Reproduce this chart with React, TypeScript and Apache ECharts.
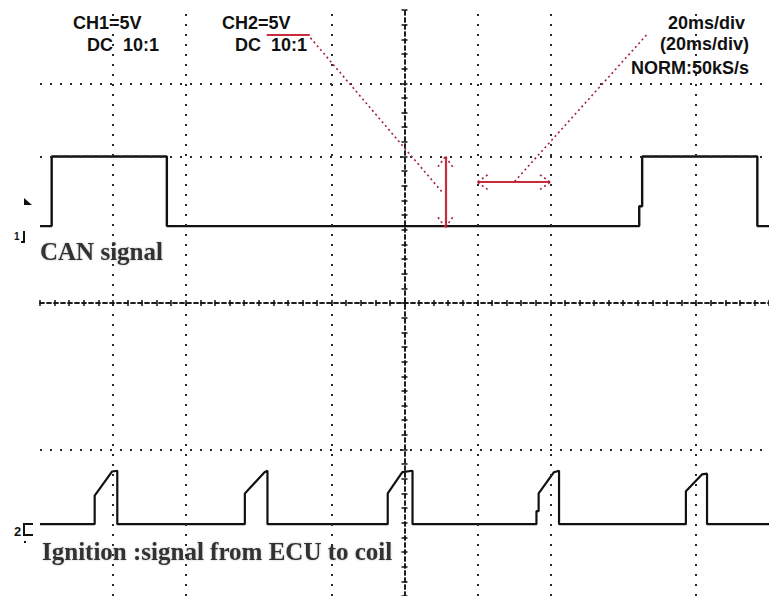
import React, { useEffect, useRef } from "react";
import * as echarts from "echarts";

// Oscilloscope screen: 10 horizontal divisions (-5..5), 8 vertical divisions (-4..4)
const xRange = [-5, 5];
const yRange = [-4, 4];
const verticalGridDivs = [-4, -3, -1, 1, 2, 4];
const horizontalGridDivs = [3, 2, -2];

// CH1: CAN signal (x in divisions, y in divisions)
const canSignal: [number, number][] = [
  [-5.0, 1.05], [-4.84, 1.05], [-4.84, 2.0], [-3.26, 2.0], [-3.26, 1.05],
  [3.22, 1.05], [3.22, 1.32], [3.26, 1.32], [3.26, 2.0], [4.84, 2.0],
  [4.84, 1.05], [5.0, 1.05],
];

// CH2: ignition signal from ECU to coil
const ignitionSignal: [number, number][] = [
  [-5.0, -3.02],
  [-4.25, -3.02], [-4.25, -2.63], [-4.01, -2.3], [-3.94, -2.29], [-3.94, -3.02],
  [-2.19, -3.02], [-2.19, -2.6], [-1.92, -2.31], [-1.88, -2.29], [-1.88, -3.02],
  [-0.23, -3.02], [-0.23, -2.6], [-0.03, -2.31], [0.11, -2.29], [0.11, -3.02],
  [1.81, -3.02], [1.81, -2.84], [1.84, -2.84], [1.84, -2.6], [2.05, -2.31], [2.12, -2.29], [2.12, -3.02],
  [3.86, -3.02], [3.86, -2.57], [4.08, -2.34], [4.15, -2.33], [4.15, -3.02],
  [5.0, -3.02],
];

// Red annotations (in divisions)
const ch2Underline: [number, number][] = [[-1.89, 3.66], [-1.3, 3.66]];
const leaderToAmplitude: [number, number][] = [[-1.29, 3.62], [0.52, 1.51]];
const amplitudeArrow: [number, number][] = [[0.56, 2.0], [0.56, 1.03]];
const divisionArrow: [number, number][] = [[1.0, 1.65], [2.0, 1.65]];
const leaderToTimebase: [number, number][] = [[1.51, 1.66], [3.33, 3.67]];

const ch1Header = ["CH1=5V", "DC  10:1"];
const ch2Header = ["CH2=5V", "DC  10:1"];
const timebaseHeader = ["20ms/div", "(20ms/div)", "NORM:50kS/s"];
const canLabel = "CAN signal";
const ignitionLabel = "Ignition :signal from ECU to coil";

const RED = "#c92a3c";
const TRACE = "#111111";

export default function App() {
  const ref = useRef<HTMLDivElement>(null);

  useEffect(() => {
    document.body.style.margin = "0";
    if (!ref.current) return;
    const chart = echarts.init(ref.current, undefined, { renderer: "svg" });

    const gridDot = { color: "#2a2a2a", type: [2, 8] as number[], width: 2 };
    const gridLines: any[] = [
      ...verticalGridDivs.map((v) => ({ xAxis: v, lineStyle: gridDot })),
      ...horizontalGridDivs.map((v) => ({ yAxis: v, lineStyle: gridDot })),
    ];

    const solidRed = { color: RED, width: 2.2, type: "solid" };
    const dottedRed = { color: "#a8203a", width: 1.6, type: [2, 3] as number[] };
    const seg = (p: [number, number][], style: any) => [
      { coord: p[0], lineStyle: style },
      { coord: p[1] },
    ];
    const hx = 0.1, hy = 0.14; // arrowhead sizes in divisions
    const vTop = amplitudeArrow[0], vBot = amplitudeArrow[1];
    const hL = divisionArrow[0], hR = divisionArrow[1];
    const heads: [number, number][][] = [
      [[vTop[0] - hx, vTop[1] - hy], vTop], [[vTop[0] + hx, vTop[1] - hy], vTop],
      [[vBot[0] - hx, vBot[1] + hy], vBot], [[vBot[0] + hx, vBot[1] + hy], vBot],
      [[hL[0] + hy, hL[1] + hx], hL], [[hL[0] + hy, hL[1] - hx], hL],
      [[hR[0] - hy, hR[1] + hx], hR], [[hR[0] - hy, hR[1] - hx], hR],
    ];
    const redLines: any[] = [
      seg(ch2Underline, solidRed),
      seg(leaderToAmplitude, dottedRed),
      seg(amplitudeArrow, solidRed),
      seg(divisionArrow, solidRed),
      seg(leaderToTimebase, dottedRed),
      ...heads.map((h) => seg(h, dottedRed)),
    ];

    const axisLineStyle = { color: "#111", width: 1.5, type: [4, 3] as number[] };
    const tickStyle = { color: "#111", width: 1.5 };
    const mkX = (position: string, yIdx: number) => ({
      type: "value",
      min: xRange[0],
      max: xRange[1],
      interval: 1,
      position,
      axisLine: { show: true, onZero: true, onZeroAxisIndex: yIdx, lineStyle: axisLineStyle },
      axisTick: { show: true, inside: false, length: 3, lineStyle: tickStyle },
      minorTick: { show: true, splitNumber: 5, length: 3, lineStyle: tickStyle },
      axisLabel: { show: false },
      splitLine: { show: false },
    });
    const mkY = (position: string, xIdx: number) => ({
      type: "value",
      min: yRange[0],
      max: yRange[1],
      interval: 1,
      position,
      axisLine: { show: true, onZero: true, onZeroAxisIndex: xIdx, lineStyle: axisLineStyle },
      axisTick: { show: true, inside: false, length: 3, lineStyle: tickStyle },
      minorTick: { show: true, splitNumber: 5, length: 3, lineStyle: tickStyle },
      axisLabel: { show: false },
      splitLine: { show: false },
    });

    const headerFont = {
      fontFamily: "Liberation Sans",
      fontWeight: "bold",
      fontSize: 18,
      fill: "#111",
      verticalAlign: "middle",
    };
    const labelFont = {
      fontFamily: "Liberation Serif",
      fontWeight: "bold",
      fontSize: 25,
      fill: "#333",
      verticalAlign: "middle",
      textShadowColor: "rgba(0,0,0,0.25)",
      textShadowBlur: 2,
    };

    chart.setOption({
      animation: false,
      backgroundColor: "#ffffff",
      grid: { left: 40, top: 10, width: 730, height: 588, containLabel: false },
      xAxis: [mkX("bottom", 0), mkX("top", 1)],
      yAxis: [mkY("left", 0), mkY("right", 1)],
      series: [
        {
          type: "line",
          data: canSignal,
          xAxisIndex: 0,
          yAxisIndex: 0,
          showSymbol: false,
          silent: true,
          lineStyle: { color: TRACE, width: 2.4 },
          markLine: {
            silent: true,
            symbol: ["none", "none"],
            label: { show: false },
            data: gridLines,
          },
          z: 3,
        },
        {
          type: "line",
          data: ignitionSignal,
          xAxisIndex: 0,
          yAxisIndex: 0,
          showSymbol: false,
          silent: true,
          lineStyle: { color: TRACE, width: 2.2 },
          markLine: {
            silent: true,
            symbol: ["none", "none"],
            label: { show: false },
            data: redLines,
          },
          z: 4,
        },
      ],
      graphic: [
        { type: "text", x: 73, y: 23, style: { ...headerFont, text: ch1Header[0] } },
        { type: "text", x: 87, y: 45, style: { ...headerFont, text: ch1Header[1] } },
        { type: "text", x: 222, y: 23, style: { ...headerFont, text: ch2Header[0] } },
        { type: "text", x: 235, y: 45, style: { ...headerFont, text: ch2Header[1] } },
        { type: "text", x: 745, y: 23, style: { ...headerFont, align: "right", text: timebaseHeader[0] } },
        { type: "text", x: 749, y: 44, style: { ...headerFont, align: "right", text: timebaseHeader[1] } },
        { type: "text", x: 749, y: 68, style: { ...headerFont, align: "right", text: timebaseHeader[2] } },
        { type: "text", x: 40, y: 251, style: { ...labelFont, text: canLabel } },
        { type: "text", x: 42, y: 551, style: { ...labelFont, text: ignitionLabel } },
        // channel markers
        { type: "polygon", shape: { points: [[24, 198], [24, 205], [32, 205]] }, style: { fill: "#111" } },
        { type: "text", x: 14, y: 236, style: { text: "1", fontSize: 10, fontWeight: "bold", fontFamily: "Liberation Sans", fill: "#111", verticalAlign: "middle" } },
        { type: "polyline", shape: { points: [[24, 231], [24, 242], [21, 242]] }, style: { stroke: "#111", lineWidth: 2, fill: null } },
        { type: "text", x: 14, y: 531, style: { text: "2", fontSize: 13, fontWeight: "bold", fontFamily: "Liberation Sans", fill: "#111", verticalAlign: "middle" } },
        { type: "polyline", shape: { points: [[33, 524], [24, 524], [24, 535], [33, 535]] }, style: { stroke: "#111", lineWidth: 2, fill: null } },
        { type: "rect", shape: { x: 24, y: 541, width: 2, height: 2 }, style: { fill: "#111" } },
      ],
    });

    return () => chart.dispose();
  }, []);

  return <div ref={ref} style={{ width: 769, height: 596 }} />;
}
